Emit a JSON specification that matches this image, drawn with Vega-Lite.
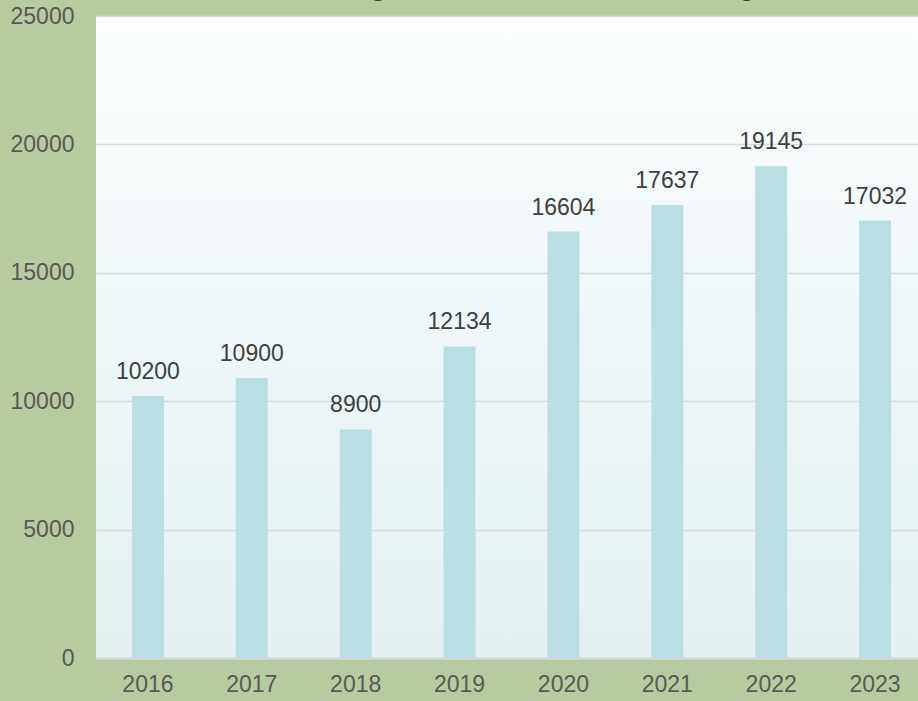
{
  "$schema": "https://vega.github.io/schema/vega-lite/v6.json",
  "autosize": "none",
  "width": 831,
  "height": 642,
  "padding": {"left": 96, "top": 16, "right": 0, "bottom": 43},
  "background": "#b8caa0",
  "title": {
    "text": "Housing Sales Trend, Annual Housing Market",
    "anchor": "start",
    "frame": "group",
    "dx": 187,
    "dy": 18,
    "offset": 0,
    "baseline": "alphabetic",
    "fontSize": 28,
    "font": "Liberation Sans",
    "fontWeight": "normal",
    "color": "#404040"
  },
  "config": {
    "view": {
      "stroke": null,
      "fill": {"gradient": "linear", "x1": 0, "y1": 0, "x2": 0, "y2": 1, "stops": [{"offset": 0, "color": "#fbfdfe"}, {"offset": 1, "color": "#e3f1f2"}]}
    },
    "axis": {"labelFont": "Liberation Sans", "labelFontSize": 23, "labelColor": "#595959", "titleFontSize": 0}
  },
  "data": {
    "values": [
      {"year": "2016", "value": 10200},
      {"year": "2017", "value": 10900},
      {"year": "2018", "value": 8900},
      {"year": "2019", "value": 12134},
      {"year": "2020", "value": 16604},
      {"year": "2021", "value": 17637},
      {"year": "2022", "value": 19145},
      {"year": "2023", "value": 17032}
    ]
  },
  "encoding": {
    "x": {
      "field": "year", "type": "ordinal", "title": null,
      "scale": {"paddingInner": 0.69, "paddingOuter": 0.345},
      "axis": {"labelAngle": 0, "ticks": false, "domain": true, "domainColor": "#d9d9d9", "domainWidth": 2, "labelPadding": 15, "grid": false}
    },
    "y": {
      "field": "value", "type": "quantitative", "title": null,
      "scale": {"domain": [0, 25000], "nice": false},
      "axis": {"values": [0, 5000, 10000, 15000, 20000, 25000], "format": "d", "ticks": false, "domain": false, "labelPadding": 22, "gridColor": "#d9d9d9", "gridWidth": 1.5}
    }
  },
  "layer": [
    {"mark": {"type": "bar", "color": "#b9dfe3", "size": 32}},
    {
      "mark": {"type": "text", "baseline": "alphabetic", "dy": -17, "fontSize": 23, "font": "Liberation Sans", "color": "#404040"},
      "encoding": {"text": {"field": "value", "type": "quantitative", "format": "d"}}
    }
  ]
}
